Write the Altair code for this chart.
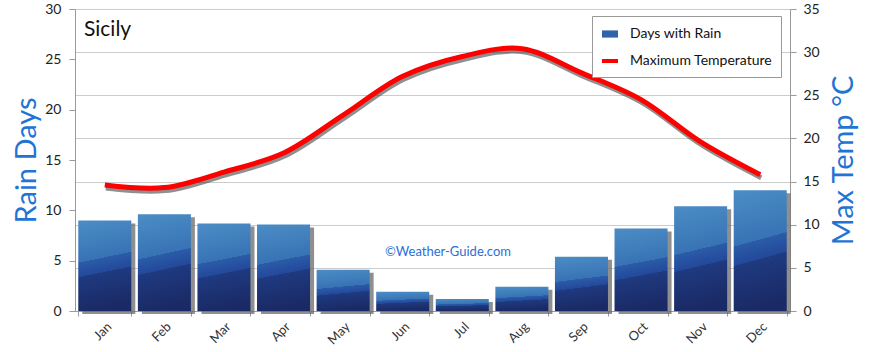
import altair as alt
import pandas as pd

months = ["Jan", "Feb", "Mar", "Apr", "May", "Jun", "Jul", "Aug", "Sep", "Oct", "Nov", "Dec"]
rain_days = [9.0, 9.6, 8.7, 8.6, 4.1, 1.9, 1.2, 2.4, 5.4, 8.2, 10.4, 12.0]
max_temp = [14.6, 14.3, 16.1, 18.3, 22.7, 27.2, 29.5, 30.4, 27.6, 24.5, 19.6, 15.8]
series = ["Days with Rain", "Maximum Temperature"]
rain_ticks = [0, 5, 10, 15, 20, 25, 30]
temp_ticks = [0, 5, 10, 15, 20, 25, 30, 35]
place_title = ["Sicily"]
watermark = ["\u00a9Weather-Guide.com"]

FONT = "Lato"
TITLE_BLUE = "#1f74d4"

df = pd.DataFrame({"month": months, "rain": rain_days, "temp": max_temp})
legend_df = pd.DataFrame({"series": series})
title_df = pd.DataFrame({"t": place_title})
wm_df = pd.DataFrame({"t": watermark})

bar_gradient = alt.Gradient(
    gradient="linear",
    x1=0.12, y1=1, x2=0, y2=0,
    stops=[
        alt.GradientStop(color="#1a2a66", offset=0),
        alt.GradientStop(color="#1f3a80", offset=0.38),
        alt.GradientStop(color="#23489a", offset=0.38),
        alt.GradientStop(color="#2b5ca8", offset=0.54),
        alt.GradientStop(color="#3873b5", offset=0.54),
        alt.GradientStop(color="#4b8dc5", offset=1),
    ],
)

x_enc = alt.X(
    "month:N",
    sort=months,
    scale=alt.Scale(paddingInner=0.11, paddingOuter=0.055),
    axis=alt.Axis(
        title=None, labelAngle=315, tickBand="extent", labelFont=FONT,
        labelFontSize=13, labelColor="#333", tickColor="#999", domainColor="#999",
        tickSize=5, labelPadding=4, grid=False,
    ),
)

rain_y = alt.Y(
    "rain:Q",
    scale=alt.Scale(domain=[0, 30], nice=False, zero=True),
    axis=alt.Axis(
        values=rain_ticks, title="Rain Days", titleFont=FONT, titleFontSize=29,
        titleFontWeight="normal", titleColor=TITLE_BLUE, titlePadding=3,
        labelFont=FONT, labelFontSize=14, labelColor="#222", tickColor="#999",
        domainColor="#999", tickSize=6, labelPadding=8, grid=False,
    ),
)

temp_y = alt.Y(
    "temp:Q",
    scale=alt.Scale(domain=[0, 35], nice=False, zero=True),
    axis=alt.Axis(
        orient="right", values=temp_ticks, title="Max Temp \u00b0C", titleFont=FONT,
        titleFontSize=29, titleFontWeight="normal", titleColor=TITLE_BLUE,
        titleAngle=270, titleBaseline="top", titlePadding=10,
        labelFont=FONT, labelFontSize=14, labelColor="#222", tickColor="#999",
        domainColor="#999", tickSize=6, labelPadding=7,
        grid=True, gridColor="#cccccc", gridWidth=1,
    ),
)

bar_shadow = alt.Chart(df).mark_bar(color="#6a6a6a", opacity=0.75, xOffset=4, yOffset=3).encode(
    x=x_enc, y=rain_y
)
bars = alt.Chart(df).mark_bar(color=bar_gradient).encode(x=x_enc, y=rain_y)

title_text = alt.Chart(title_df).mark_text(
    align="left", baseline="middle", font=FONT, fontSize=21, color="#111"
).encode(x=alt.value(9), y=alt.value(21), text="t:N")

wm_text = alt.Chart(wm_df).mark_text(
    align="center", baseline="middle", font=FONT, fontSize=13, color="#2a6fd6"
).encode(x=alt.value(373), y=alt.value(243), text="t:N")

left_group = alt.layer(bar_shadow, bars, title_text, wm_text)

line_shadow = alt.Chart(df).mark_line(
    color="#333", strokeWidth=5, opacity=0.55, interpolate="catmull-rom", yOffset=3, xOffset=1
).encode(x=x_enc, y=temp_y)

line = alt.Chart(df).mark_line(
    color="#ff0000", strokeWidth=5, interpolate="catmull-rom"
).encode(x=x_enc, y=temp_y)

is_temp = "datum.value === 'Maximum Temperature'"
legend_layer = alt.Chart(legend_df).mark_point(filled=True, opacity=0).encode(
    color=alt.Color(
        "series:N",
        scale=alt.Scale(domain=series, range=["#2f63ab", "#ff0000"]),
        legend=alt.Legend(
            title=None, orient="none", legendX=517, legendY=7,
            fillColor="white", strokeColor="#999", padding=8,
            labelFont=FONT, labelFontSize=14, labelColor="#111",
            symbolSize=256, rowPadding=5, labelOffset=10,
            symbolType=alt.ExprRef(expr=is_temp + " ? 'stroke' : 'M-1,-0.45H1V0.45H-1Z'"),
            symbolStrokeColor=alt.ExprRef(expr=is_temp + " ? '#ff0000' : 'transparent'"),
            symbolFillColor=alt.ExprRef(expr=is_temp + " ? 'transparent' : '#2f5fa8'"),
            symbolStrokeWidth=4,
            symbolOpacity=1,
        ),
    ),
)

right_group = alt.layer(line_shadow, line, legend_layer)

chart = alt.layer(left_group, right_group).resolve_scale(y="independent").properties(
    width=715,
    height=302,
    autosize=alt.AutoSizeParams(type="none"),
    padding={"left": 75, "top": 9, "right": 80, "bottom": 41},
    background="white",
).configure_view(stroke=None)

chart.save("out.html", embed_options={"renderer": "svg", "actions": False})
